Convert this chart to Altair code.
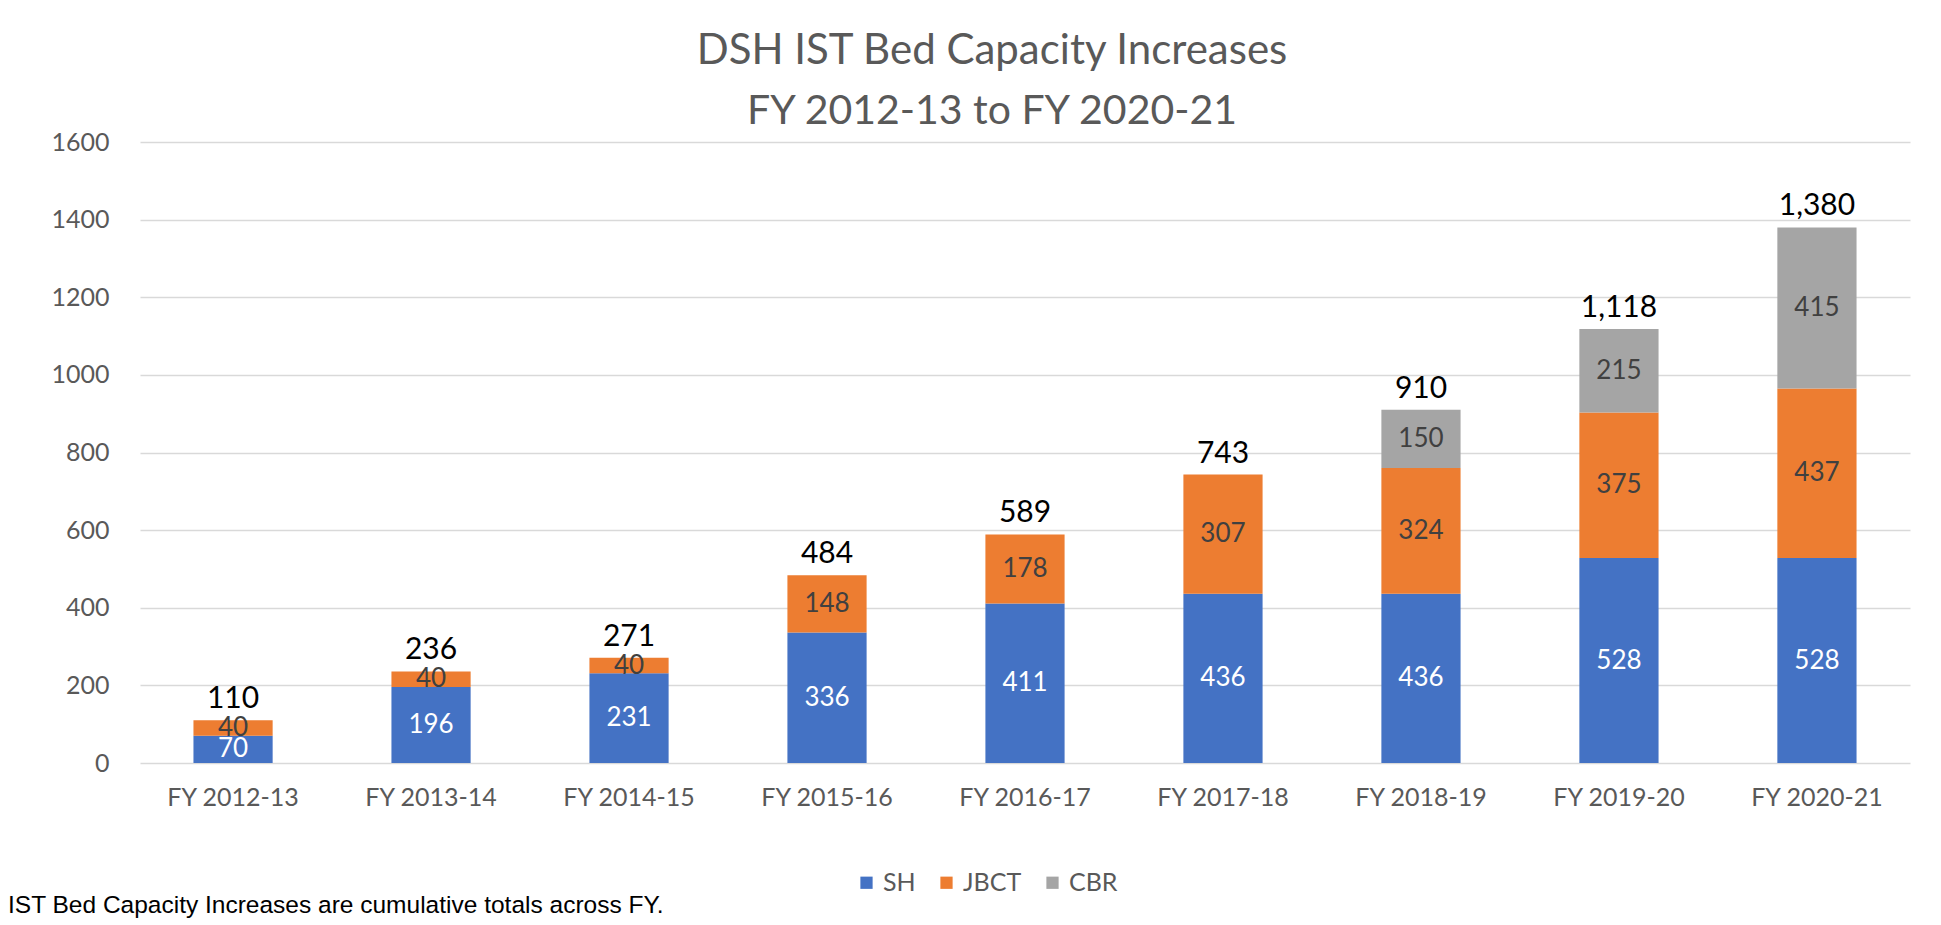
import altair as alt
import pandas as pd

years = ["FY 2012-13", "FY 2013-14", "FY 2014-15", "FY 2015-16", "FY 2016-17",
         "FY 2017-18", "FY 2018-19", "FY 2019-20", "FY 2020-21"]
sh = [70, 196, 231, 336, 411, 436, 436, 528, 528]
jbct = [40, 40, 40, 148, 178, 307, 324, 375, 437]
cbr = [0, 0, 0, 0, 0, 0, 150, 215, 415]
totals = [110, 236, 271, 484, 589, 743, 910, 1118, 1380]
series = ["SH", "JBCT", "CBR"]
colors = ["#4472C4", "#ED7D31", "#A5A5A5"]
label_colors = ["#FFFFFF", "#404040", "#404040"]
y_ticks = [0, 200, 400, 600, 800, 1000, 1200, 1400, 1600]
title_lines = ["DSH IST Bed Capacity Increases", "FY 2012-13 to FY 2020-21"]
footnote = "IST Bed Capacity Increases are cumulative totals across FY."

FONT = "Lato"
GREY = "#595959"

rows = []
for i, y in enumerate(years):
    for k, (name, vals) in enumerate(zip(series, [sh, jbct, cbr])):
        if vals[i] > 0:
            rows.append({"year": y, "series": name, "value": vals[i],
                         "order": k, "lc": label_colors[k]})
df = pd.DataFrame(rows)
tot_df = pd.DataFrame({"year": years, "total": totals})

x_scale = alt.Scale(paddingInner=0.6, paddingOuter=0.27)
x_enc = alt.X("year:N", sort=years, title=None, scale=x_scale,
              axis=alt.Axis(labelAngle=0, ticks=False, domain=False,
                            labelFont=FONT, labelFontSize=25, labelColor=GREY,
                            labelPadding=22))
y_scale = alt.Scale(domain=[0, 1600])

bars = alt.Chart(df).mark_bar().encode(
    x=x_enc,
    y=alt.Y("value:Q", stack="zero", scale=y_scale, title=None,
            axis=alt.Axis(values=y_ticks, format="d", grid=True,
                          gridColor="#D9D9D9", gridWidth=1.5, domain=False,
                          ticks=False, labelFont=FONT, labelFontSize=25,
                          labelColor=GREY, labelPadding=31)),
    color=alt.Color("series:N", sort=series,
                    scale=alt.Scale(domain=series, range=colors),
                    legend=alt.Legend(orient="none", legendX=714, legendY=728,
                                      direction="horizontal", title=None,
                                      symbolType="square", symbolSize=150,
                                      symbolStrokeWidth=0,
                                      labelFont=FONT, labelFontSize=25,
                                      labelColor=GREY, columnPadding=18,
                                      labelOffset=4)),
    order=alt.Order("order:Q"),
)

seg = alt.Chart(df).transform_stack(
    stack="value", groupby=["year"], sort=[alt.SortField("order")],
    as_=["v0", "v1"]
).transform_calculate(mid="(datum.v0 + datum.v1) / 2").mark_text(
    font=FONT, fontSize=26, baseline="middle"
).encode(
    x=alt.X("year:N", sort=years, scale=x_scale),
    y=alt.Y("mid:Q", scale=y_scale),
    color=alt.Color("lc:N", scale=None),
    text=alt.Text("value:Q"),
)

tot = alt.Chart(tot_df).mark_text(
    font=FONT, fontSize=30, color="#000000", baseline="alphabetic", dy=-12
).encode(
    x=alt.X("year:N", sort=years, scale=x_scale),
    y=alt.Y("total:Q", scale=y_scale),
    text=alt.Text("total:Q", format=","),
)

t1 = alt.Chart(pd.DataFrame({"t": [title_lines[0]]})).mark_text(
    font=FONT, fontSize=42, color=GREY, align="center", baseline="alphabetic"
).encode(x=alt.value(852), y=alt.value(-78), text="t:N")
t2 = alt.Chart(pd.DataFrame({"t": [title_lines[1]]})).mark_text(
    font=FONT, fontSize=41, color=GREY, align="center", baseline="alphabetic"
).encode(x=alt.value(852), y=alt.value(-18), text="t:N")

foot = alt.Chart(pd.DataFrame({"t": [footnote]})).mark_text(
    font="Liberation Sans Narrow, Liberation Sans, Arial", fontSize=24.5,
    color="#000000", align="left", baseline="middle"
).encode(x=alt.value(-132), y=alt.value(764), text="t:N")

chart = alt.layer(bars, seg, tot, t1, t2, foot).properties(
    width=1770, height=621,
    padding={"left": 132, "top": 134, "right": 23, "bottom": 160},
    autosize=alt.AutoSizeParams(type="none"),
    background="white",
).configure_view(stroke=None)

chart.save("out.html", embed_options={"renderer": "svg", "actions": False})
